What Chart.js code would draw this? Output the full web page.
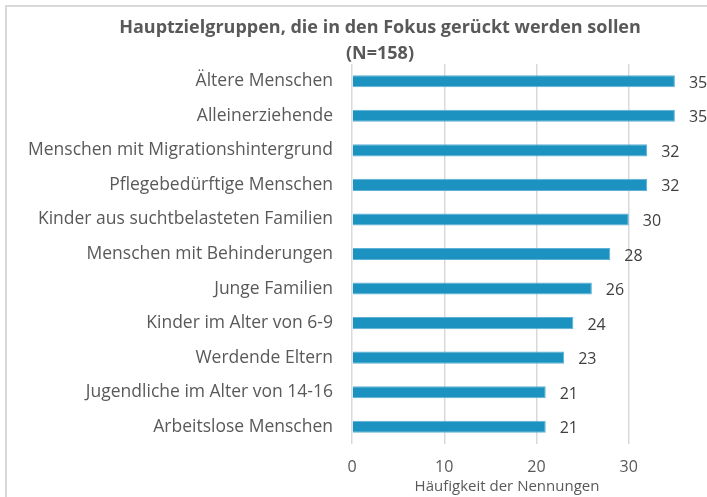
<!DOCTYPE html>
<html>
<head>
<meta charset="utf-8">
<script src="https://cdn.jsdelivr.net/npm/chart.js@4"></script>
<style>
  html, body { margin: 0; padding: 0; background: #fff; overflow: hidden; }
  #frame { position: absolute; left: 5px; top: 5px; width: 800px; height: 600px; border: 2px solid #d9d9d9; }
  #chart { position: absolute; left: 0; top: 0; }
</style>
</head>
<body>
<div id="frame"></div>
<canvas id="chart" width="760" height="497"></canvas>
<script>
const categories = [
    "Ältere Menschen",
    "Alleinerziehende",
    "Menschen mit Migrationshintergrund",
    "Pflegebedürftige Menschen",
    "Kinder aus suchtbelasteten Familien",
    "Menschen mit Behinderungen",
    "Junge Familien",
    "Kinder im Alter von 6-9",
    "Werdende Eltern",
    "Jugendliche im Alter von 14-16",
    "Arbeitslose Menschen",
];
const counts = [35, 35, 32, 32, 30, 28, 26, 24, 23, 21, 21];
const xTicks = [0, 10, 20, 30, 40];
const titleLines = ["Hauptzielgruppen, die in den Fokus gerückt werden sollen", "(N=158)"];
const xTitle = "Häufigkeit der Nennungen";

const FONT = "'Open Sans', Lato, sans-serif";
const textGrey = "#595959";

// value labels, chart title and x axis title (Excel placed the titles off-centre)
const extraText = {
    id: "extraText",
    afterDatasetsDraw(chart) {
        const ctx = chart.ctx;
        const meta = chart.getDatasetMeta(0);
        const area = chart.chartArea;
        ctx.save();
        ctx.font = "16px " + FONT;
        ctx.fillStyle = "#404040";
        ctx.textAlign = "left";
        ctx.textBaseline = "middle";
        meta.data.forEach((bar, i) => {
            ctx.fillText(String(counts[i]), bar.x + 14, bar.y + 2);
        });

        ctx.fillStyle = textGrey;
        ctx.textAlign = "center";
        ctx.font = "bold 18px " + FONT;
        titleLines.forEach((line, i) => {
            ctx.fillText(line, area.left + 28, 28 + i * 26);
        });

        ctx.font = "15px " + FONT;
        ctx.fillText(xTitle, area.left + 155, area.bottom + 43);
        ctx.restore();
    },
};

const ctx = document.getElementById("chart").getContext("2d");
const chart = new Chart(ctx, {
    type: "bar",
    data: {
        labels: categories,
        datasets: [
            {
                data: counts,
                backgroundColor: "#1b92bf",
                borderColor: "#5eb1d6",
                borderWidth: 1,
                categoryPercentage: 1,
                barPercentage: 0.35,
            },
        ],
    },
    options: {
        indexAxis: "y",
        responsive: false,
        animation: false,
        layout: { padding: { left: 0, right: 39, top: 64, bottom: 0 } },
        plugins: {
            legend: { display: false },
            tooltip: { enabled: false },
        },
        scales: {
            x: {
                min: 0,
                max: 40,
                afterBuildTicks(axis) {
                    axis.ticks = xTicks.map((v) => ({ value: v }));
                },
                afterFit(axis) {
                    axis.height = 53;
                },
                grid: { color: "#d9d9d9", lineWidth: 1.5, drawTicks: false },
                border: { display: false },
                ticks: {
                    color: textGrey,
                    font: { family: FONT, size: 16 },
                    padding: 14,
                },
            },
            y: {
                afterFit(axis) {
                    axis.width = 352;
                },
                grid: { display: false, drawTicks: false },
                border: { display: false },
                ticks: {
                    color: textGrey,
                    font: { family: FONT, size: 17.5 },
                    padding: 19,
                },
            },
        },
    },
    plugins: [extraText],
});
</script>
</body>
</html>
